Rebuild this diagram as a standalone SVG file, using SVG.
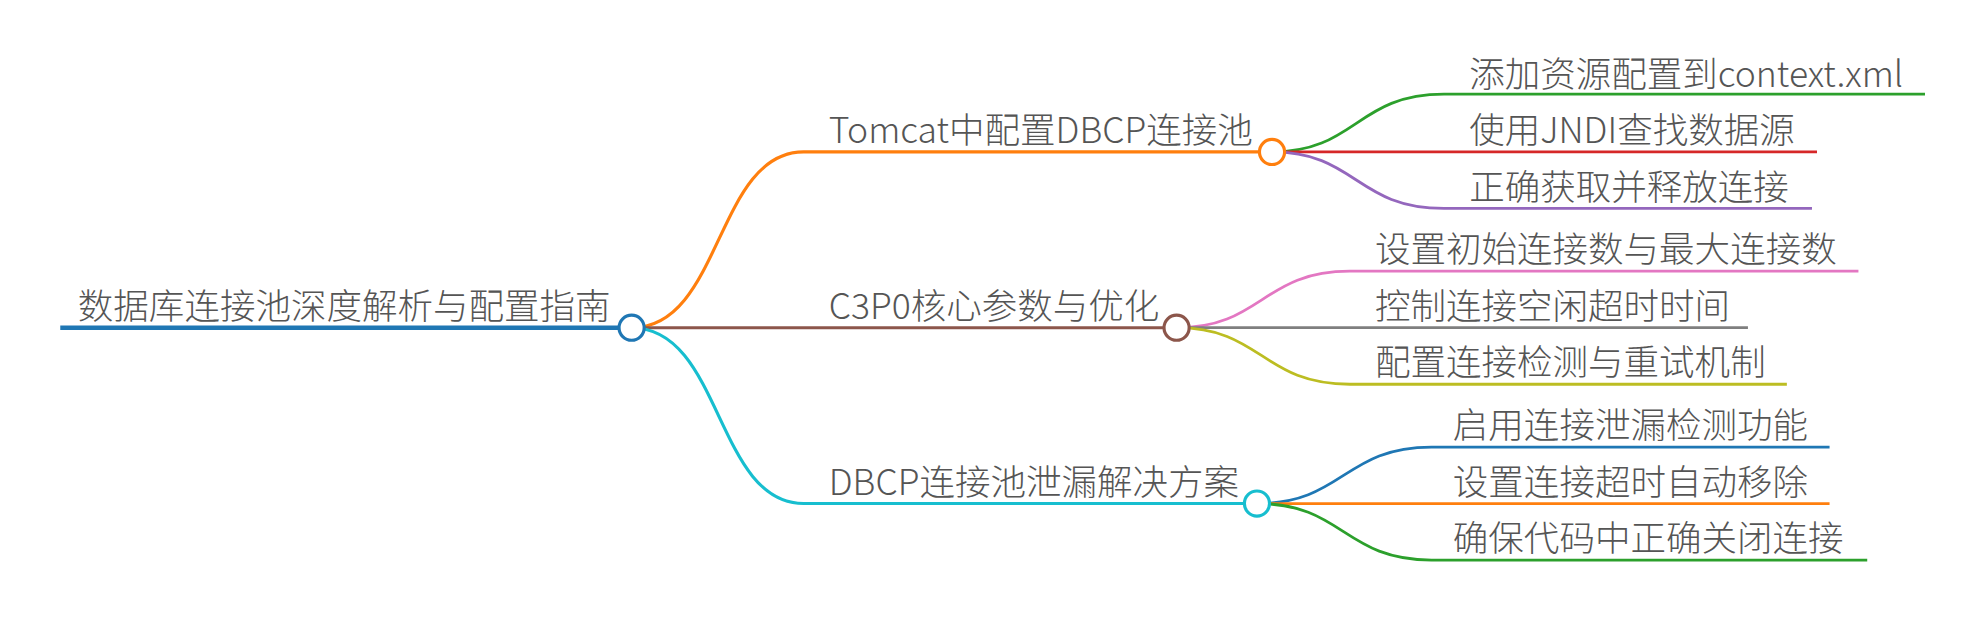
<svg xmlns="http://www.w3.org/2000/svg" width="1969" height="632" viewBox="0 0 1969 632">
<style>
text{font-family:"Noto Sans CJK SC","Noto Sans",sans-serif;font-weight:300;font-size:28.3px;fill:#555}
.c{fill:#fff;stroke-width:2.5}
path{fill:none}
.b{stroke-width:2.5}
.l{stroke-width:2.2}
</style>
<rect width="1969" height="632" fill="#fff"/>
<g transform="scale(1.2557)">
<g id="connectors">
<path d="M48 261H503" stroke="#1f77b4" stroke-width="3.5"/>
<path class="b" d="M503 261C575 261 570 121 640 121H1013" stroke="#ff7f0e"/>
<path class="b" d="M503 261H937" stroke="#8c564b"/>
<path class="b" d="M503 261C575 261 570 401 640 401H1001" stroke="#17becf"/>
<path class="l" d="M1013 121C1080 121 1080 75 1150 75H1533" stroke="#2ca02c"/>
<path class="l" d="M1013 121H1447" stroke="#d62728"/>
<path class="l" d="M1013 121C1080 121 1080 166 1150 166H1443" stroke="#9467bd"/>
<path class="l" d="M937 261C1005 261 1005 216 1075 216H1480" stroke="#e377c2"/>
<path class="l" d="M937 261H1392" stroke="#7f7f7f"/>
<path class="l" d="M937 261C1005 261 1005 306 1075 306H1423" stroke="#bcbd22"/>
<path class="l" d="M1001 401C1070 401 1070 356 1140 356H1457" stroke="#1f77b4"/>
<path class="l" d="M1001 401H1457" stroke="#ff7f0e"/>
<path class="l" d="M1001 401C1070 401 1070 446 1140 446H1487" stroke="#2ca02c"/>
</g>
<g id="root"><text x="62" y="254">数据库连接池深度解析与配置指南</text><circle class="c" cx="503" cy="261" r="10" stroke="#1f77b4"/></g>
<g id="n1"><text x="660" y="114">Tomcat中配置DBCP连接池</text><circle class="c" cx="1013" cy="121" r="10" stroke="#ff7f0e"/></g>
<g id="n2"><text x="660" y="254">C3P0核心参数与优化</text><circle class="c" cx="937" cy="261" r="10" stroke="#8c564b"/></g>
<g id="n3"><text x="660" y="394">DBCP连接池泄漏解决方案</text><circle class="c" cx="1001" cy="401" r="10" stroke="#17becf"/></g>
<g id="l11"><text x="1170" y="69">添加资源配置到context.xml</text></g>
<g id="l12"><text x="1170" y="114">使用JNDI查找数据源</text></g>
<g id="l13"><text x="1170" y="159">正确获取并释放连接</text></g>
<g id="l21"><text x="1095" y="209">设置初始连接数与最大连接数</text></g>
<g id="l22"><text x="1095" y="254">控制连接空闲超时时间</text></g>
<g id="l23"><text x="1095" y="299">配置连接检测与重试机制</text></g>
<g id="l31"><text x="1157" y="349">启用连接泄漏检测功能</text></g>
<g id="l32"><text x="1157" y="394">设置连接超时自动移除</text></g>
<g id="l33"><text x="1157" y="439">确保代码中正确关闭连接</text></g>
</g>
</svg>
